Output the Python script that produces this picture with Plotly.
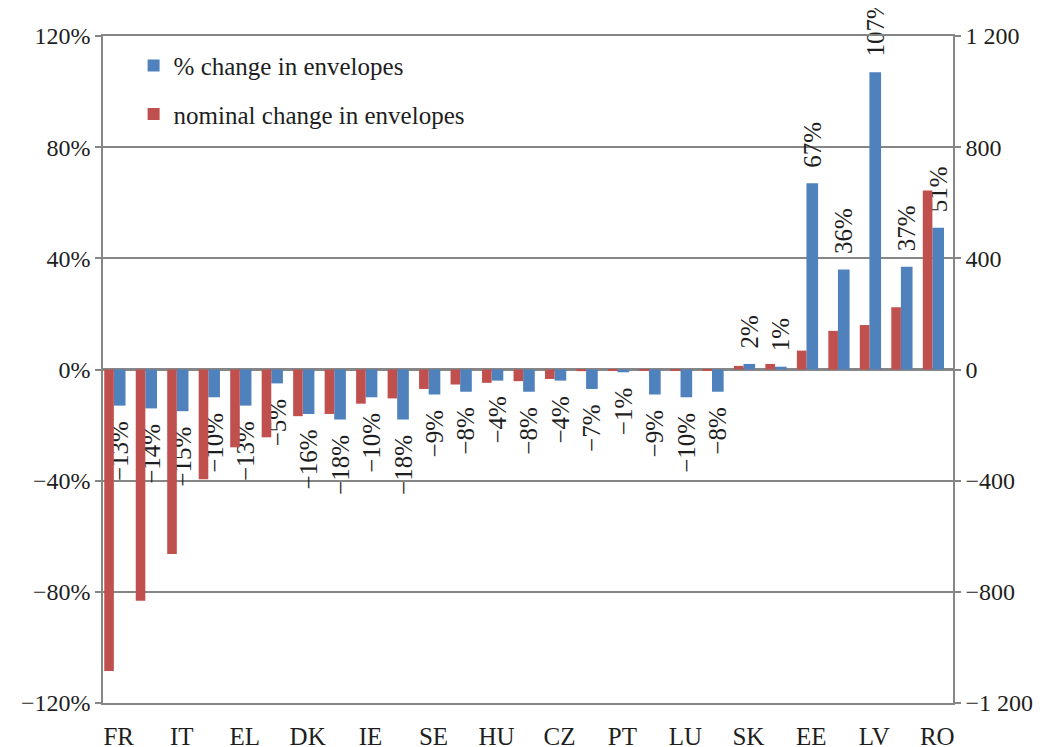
import plotly.graph_objects as go

countries = ["FR", "DE", "IT", "ES", "EL", "UK", "DK", "NL", "IE", "BE", "SE", "AT", "HU", "FI",
             "CZ", "SI", "PT", "MT", "LU", "CY", "SK", "PL", "EE", "LT", "LV", "BG", "RO"]
pct_change = [-13, -14, -15, -10, -13, -5, -16, -18, -10, -18, -9, -8, -4, -8,
              -4, -7, -1, -9, -10, -8, 2, 1, 67, 36, 107, 37, 51]
nominal_change = [-1085, -832, -664, -395, -280, -244, -168, -160, -123, -104, -70, -54, -48, -42,
                  -34, -6, -3, -2, -3, -4, 13, 20, 68, 139, 160, 224, 644]
shown_labels = countries[::2]
left_ticks = [-120, -80, -40, 0, 40, 80, 120]
right_ticks = [-1200, -800, -400, 0, 400, 800, 1200]

BLUE = "#4F81BD"
RED = "#C0504D"
GREY = "#868686"
FONT = "Liberation Serif, Times New Roman, serif"
TXT = "#1e1e1e"
NB = "\u00a0"


def fmt(v):
    s = f"{abs(v)}%"
    if v < 0:
        return "\u2212" + s + NB * 2
    return NB * 2 + s


def fmt_axis(v, suffix=""):
    s = f"{abs(v):,}".replace(",", " ") + suffix
    return ("\u2212" + s) if v < 0 else s


fig = go.Figure()
fig.add_trace(go.Bar(
    x=countries, y=pct_change, name="% change in envelopes",
    marker=dict(color=BLUE, line=dict(width=0)),
    width=0.37, offset=-0.155,
    text=[fmt(v) for v in pct_change], textposition="outside", textangle=-90,
    constraintext="none", cliponaxis=False,
    textfont=dict(family=FONT, size=25, color=TXT),
    legendgroup="a", yaxis="y",
))
fig.add_trace(go.Bar(
    x=countries, y=nominal_change, name="nominal change in envelopes",
    marker=dict(color=RED, line=dict(width=0)),
    width=0.305, offset=-0.46,
    legendgroup="b", yaxis="y2",
))

fig.update_layout(
    width=1047, height=747,
    margin=dict(l=95, r=102, t=28, b=52),
    paper_bgcolor="white", plot_bgcolor="white",
    barmode="overlay",
    font=dict(family=FONT, size=24, color=TXT),
    showlegend=True,
    legend=dict(x=0.036, y=0.99, xanchor="left", yanchor="top",
                bgcolor="rgba(0,0,0,0)", font=dict(family=FONT, size=25, color=TXT),
                tracegroupgap=13, traceorder="grouped"),
    xaxis=dict(
        type="category", range=[-0.5, 26.5],
        tickvals=shown_labels, ticktext=shown_labels,
        ticks="outside", ticklen=10, tickcolor="rgba(0,0,0,0)",
        showline=True, mirror=True, linecolor=GREY, linewidth=1.5,
        showgrid=False, automargin=False,
        tickfont=dict(family=FONT, size=25, color=TXT),
    ),
    xaxis2=dict(
        overlaying="x", anchor="free", position=0.5, range=[-0.5, 26.5],
        tickvals=[i - 0.5 for i in range(28)], ticks="outside", ticklen=7,
        tickcolor=GREY, tickwidth=1.5, showticklabels=False,
        showline=False, showgrid=False, zeroline=False,
    ),
    yaxis=dict(
        range=[-120, 120], tickvals=left_ticks,
        ticktext=[fmt_axis(v, "%") for v in left_ticks],
        showgrid=True, gridcolor=GREY, gridwidth=1.5,
        zeroline=True, zerolinecolor=GREY, zerolinewidth=3,
        showline=True, linecolor=GREY, linewidth=1.5,
        ticks="outside", ticklen=6, tickcolor=GREY, tickwidth=1.5,
        tickfont=dict(family=FONT, size=24, color=TXT), automargin=False,
    ),
    yaxis2=dict(
        range=[-1200, 1200], tickvals=right_ticks,
        ticktext=[fmt_axis(v) for v in right_ticks],
        overlaying="y", side="right", showgrid=False, zeroline=False,
        showline=True, linecolor=GREY, linewidth=1.5,
        ticks="outside", ticklen=6, tickcolor=GREY, tickwidth=1.5,
        tickfont=dict(family=FONT, size=24, color=TXT), automargin=False,
    ),
)

fig.write_html("out.html")
